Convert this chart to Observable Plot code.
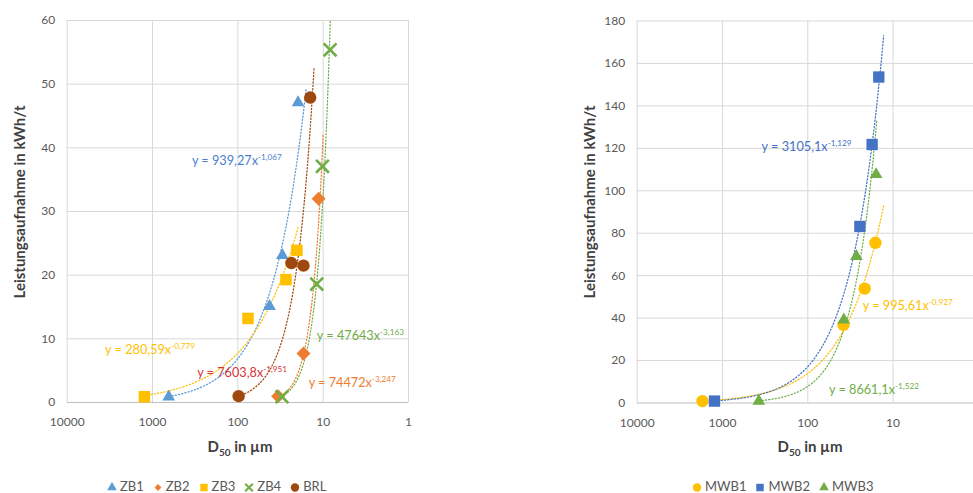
<!DOCTYPE html>
<html><head><meta charset="utf-8">
<script src="https://cdn.jsdelivr.net/npm/d3@7"></script>
<script src="https://cdn.jsdelivr.net/npm/@observablehq/plot@0.6"></script>
<style>
body{margin:0;background:#fff;font-family:Lato,"Liberation Sans",sans-serif;overflow:hidden}
#wrap{position:relative;width:973px;height:493px;overflow:hidden;background:#fff}
.panel{position:absolute;top:0}
.legend{position:absolute;top:479px;height:15px;line-height:15px;display:flex;align-items:center;font-size:13px;color:#595959;white-space:nowrap}
.legend .it{display:flex;align-items:center;margin-right:9px}
.legend svg{margin-right:3px}
</style></head>
<body><div id="wrap"><div class="panel" id="left" style="left:0"></div><div class="panel" id="right" style="left:480px"></div>
<div class="legend" id="legL" style="left:107px"></div><div class="legend" id="legR" style="left:692px"></div></div>
<script>
// ---------------- data: left panel ----------------
const leftSeries = ["ZB1","ZB2","ZB3","ZB4","BRL"];
const zb1D = [646, 42.5, 30.1, 19.7];   const zb1P = [0.9, 15.1, 23.1, 47.1];
const zb2D = [33.8, 17, 11.3];          const zb2P = [1.0, 7.7, 32.0];
const zb3D = [1245, 76, 27.3, 20.3];    const zb3P = [0.9, 13.2, 19.3, 23.9];
const zb4D = [30.4, 11.9, 10.2, 8.3];   const zb4P = [0.9, 18.6, 37.1, 55.4];
const brlD = [97.9, 23.6, 17, 14.2];    const brlP = [1.0, 21.9, 21.5, 47.9];
// power trendlines y = a * x^b (from chart equations), drawn between D limits
const leftTrendA = [939.27, 74472, 280.59, 47643, 7603.8];
const leftTrendB = [-1.067, -3.247, -0.779, -3.163, -1.951];
const leftTrendFrom = [646, 33.8, 1245, 30.4, 97.9];
const leftTrendTo = [15.8, 10, 19.5, 7.9, 12.8];
const leftEqText = ["y = 939,27x", "y = 74472x", "y = 280,59x", "y = 47643x", "y = 7603,8x"];
const leftEqExp = ["-1,067", "-3,247", "-0,779", "-3,163", "-1,951"];
const leftEqD = [341, 14.6, 3548, 11.7, 296];
const leftEqP = [38.0, 3.0, 8.2, 10.4, 4.55];

// ---------------- data: right panel ----------------
const rightSeries = ["MWB1","MWB2","MWB3"];
const mwb1D = [1718, 38.1, 21.5, 16.1]; const mwb1P = [0.9, 36.8, 53.9, 75.5];
const mwb2D = [1241, 24.5, 17.6, 14.7]; const mwb2P = [0.9, 83.2, 121.8, 153.6];
const mwb3D = [375, 37.8, 26.9, 15.8];  const mwb3P = [0.9, 39.2, 69.1, 107.7];
const rightTrendA = [995.61, 3105.1, 8661.1];
const rightTrendB = [-0.927, -1.129, -1.522];
const rightTrendFrom = [1718, 1241, 375];
const rightTrendTo = [12.9, 12.9, 15.5];
const rightEqText = ["y = 995,61x", "y = 3105,1x", "y = 8661,1x"];
const rightEqExp = ["-0,927", "-1,129", "-1,522"];
const rightEqD = [22.4, 343, 55.7];
const rightEqP = [45.9, 120.4, 6.2];

const xTicks = [10000, 1000, 100, 10, 1];
const yLabel = "Leistungsaufnahme in kWh/t";

// ---------------- styles ----------------
const leftStyle = [
  {color:"#5B9BD5", symbol:"triangle", r:4.7, eq:"#4A7FCF"},
  {color:"#ED7D31", symbol:"diamond2", r:6.3, eq:"#ED7D31"},
  {color:"#FFC000", symbol:"square", r:6.5, eq:"#FFC000"},
  {color:"#70AD47", symbol:"times", r:5.9, eq:"#70AD47"},
  {color:"#9E480E", symbol:"circle", r:6.2, eq:"#D6343A"}
];
const rightStyle = [
  {color:"#FFC000", symbol:"circle", r:6.2, eq:"#FFC000"},
  {color:"#4472C4", symbol:"square", r:6.4, eq:"#4472C4"},
  {color:"#70AD47", symbol:"triangle", r:4.7, eq:"#70AD47"}
];

function toRows(D, P){ return D.map((d,i)=>({d, p:P[i]})); }
function trend(a, b, from, to){
  const n = 120;
  return d3.range(n+1).map(i => { const d = from*Math.pow(to/from, i/n); return {d, p: a*Math.pow(d, b)}; });
}

function buildPanel(opts){
  const marks = [
    Plot.gridY(opts.yTicks.filter(t=>t>0), {stroke:"#D9D9D9", strokeOpacity:1}),
    Plot.gridX(opts.xTicks, {stroke:"#D9D9D9", strokeOpacity:1}),
    Plot.ruleY([0], {stroke:"#BFBFBF"}),
    Plot.axisY(opts.yTicks, {tickSize:0, tickPadding:12, fontSize:12, fill:"#595959", label:null}),
    Plot.axisX(opts.xTicks, {tickSize:0, tickPadding:15, fontSize:12, fill:"#595959", label:null, tickFormat:d3.format("d")})
  ];
  opts.series.forEach((s,i)=>{
    marks.push(Plot.line(trend(opts.A[i], opts.B[i], opts.from[i], opts.to[i]), {x:"d", y:"p", stroke:opts.style[i].color, strokeWidth:1.25, strokeDasharray:"1.2,2.1", clip:true}));
  });
  opts.series.forEach((s,i)=>{
    const st = opts.style[i];
    const stroked = st.symbol === "times";
    marks.push(Plot.dot(toRows(opts.D[i], opts.P[i]), {x:"d", y:"p", symbol:()=>st.symbol, r:st.r,
      fill: stroked ? "none" : st.color, stroke: stroked ? st.color : "none", strokeWidth: stroked ? 2.6 : 0}));
  });
  const svg = Plot.plot({
    width: opts.width, height: 470,
    marginLeft: opts.ml, marginRight: opts.mr, marginTop: opts.mt, marginBottom: 470 - opts.bottom,
    style:{fontFamily:"Lato, 'Liberation Sans', sans-serif", background:"#fff", overflow:"visible"},
    x:{type:"log", domain: opts.xDomain},
    y:{domain: opts.yDomain},
    symbol:{type:"identity"},
    marks
  });
  const sx = svg.scale("x"), sy = svg.scale("y");
  const g = d3.select(svg).append("g");
  // equations
  opts.series.forEach((s,i)=>{
    const t = g.append("text").attr("x", sx.apply(opts.eqD[i])).attr("y", sy.apply(opts.eqP[i]))
      .attr("text-anchor","start").attr("dy","0.35em").attr("fill", opts.style[i].eq).attr("font-size", 12.7);
    t.append("tspan").text(opts.eqText[i]);
    t.append("tspan").attr("font-size", 8.2).attr("dy", -5).text(opts.eqExp[i]);
  });
  // y label
  g.append("text").attr("transform", `translate(${opts.yLabelX},202) rotate(-90)`).attr("text-anchor","middle")
    .attr("dy","0.35em").attr("font-size",15).attr("font-weight","bold").attr("fill","#404040").text(yLabel);
  // x label
  const xl = g.append("text").attr("x", opts.xLabelX).attr("y", 447).attr("text-anchor","middle")
    .attr("dy","0.35em").attr("font-size",15).attr("font-weight","bold").attr("fill","#404040");
  xl.append("tspan").text("D");
  xl.append("tspan").attr("font-size",10).attr("dy",4).text("50");
  xl.append("tspan").attr("dy",-4).text(" in µm");
  return svg;
}

document.getElementById("left").appendChild(buildPanel({
  width:480, ml:66.7, mr:72, mt:20, bottom:402, xDomain:[10000,1], yDomain:[0,60],
  xTicks: xTicks, yTicks: d3.range(0,61,10), series:leftSeries,
  D:[zb1D,zb2D,zb3D,zb4D,brlD], P:[zb1P,zb2P,zb3P,zb4P,brlP],
  A:leftTrendA, B:leftTrendB, from:leftTrendFrom, to:leftTrendTo,
  eqText:leftEqText, eqExp:leftEqExp, eqD:leftEqD, eqP:leftEqP,
  style:leftStyle, yLabelX:19.5, xLabelX:240
}));
document.getElementById("right").appendChild(buildPanel({
  width:493, ml:156.7, mr:0, mt:20.5, bottom:402.5, xDomain:[10000,1.14], yDomain:[0,180],
  xTicks: xTicks.slice(0,4), yTicks: d3.range(0,181,20), series:rightSeries,
  D:[mwb1D,mwb2D,mwb3D], P:[mwb1P,mwb2P,mwb3P],
  A:rightTrendA, B:rightTrendB, from:rightTrendFrom, to:rightTrendTo,
  eqText:rightEqText, eqExp:rightEqExp, eqD:rightEqD, eqP:rightEqP,
  style:rightStyle, yLabelX:110, xLabelX:330
}));

function legend(el, names, styles){
  const box = d3.select(el);
  names.forEach((n,i)=>{
    const st = styles[i];
    const it = box.append("div").attr("class","it");
    const s = it.append("svg").attr("width",10).attr("height",10);
    const map = {triangle:d3.symbolTriangle, diamond2:d3.symbolDiamond2, square:d3.symbolSquare, times:d3.symbolTimes, circle:d3.symbolCircle};
    const size = st.symbol==="times" ? 40 : st.symbol==="diamond2" ? 30 : st.symbol==="triangle" ? 40 : 55;
    const p = s.append("path").attr("transform","translate(5,5.5)").attr("d", d3.symbol(map[st.symbol], size)());
    if (st.symbol==="times") p.attr("fill","none").attr("stroke",st.color).attr("stroke-width",2);
    else p.attr("fill",st.color);
    it.append("span").text(n);
  });
}
legend(document.getElementById("legL"), leftSeries, leftStyle);
legend(document.getElementById("legR"), rightSeries, rightStyle);
</script></body></html>
